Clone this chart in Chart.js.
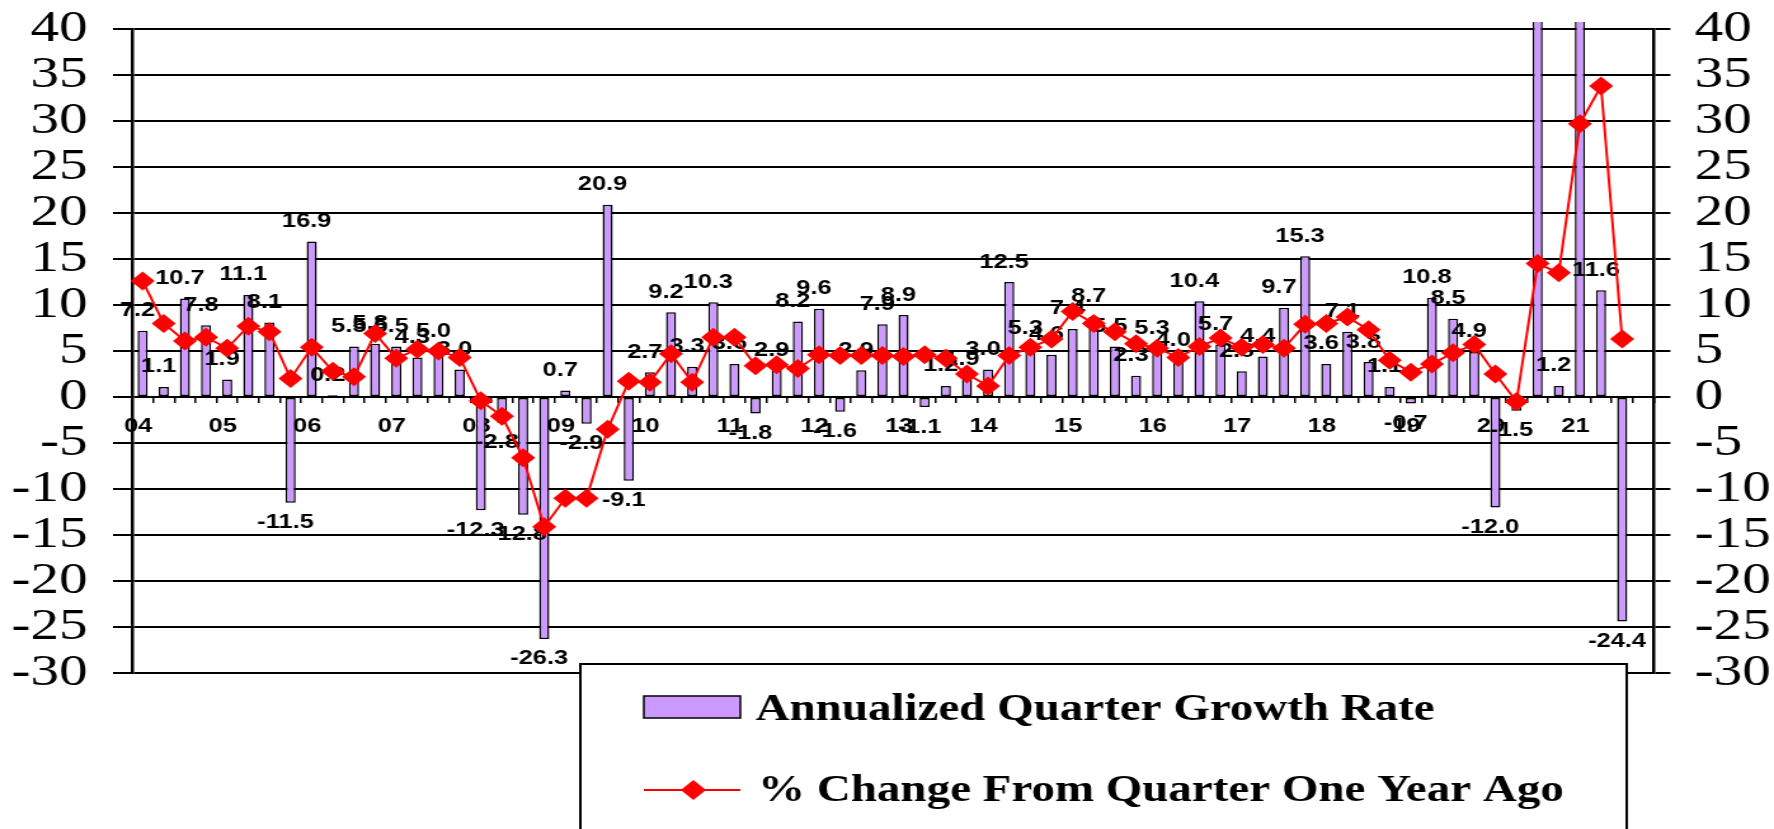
<!DOCTYPE html>
<html>
<head>
<meta charset="utf-8">
<title>Quarterly Growth</title>
<script src="https://cdn.jsdelivr.net/npm/chart.js@4.4.0/dist/chart.umd.min.js"></script>
<style>
  html, body { margin: 0; padding: 0; background: #fff; overflow: hidden; }
</style>
</head>
<body>
<!-- drawn narrower and stretched to the window width, like the source picture -->
<canvas id="growthChart" width="1397" height="829" style="width:1774px;height:829px;display:block"></canvas>
<script>
// one label per year, shown on the first quarter
const years = ['04', '05', '06', '07', '08', '09', '10', '11', '12',
               '13', '14', '15', '16', '17', '18', '19', '20', '21'];

// bars: annualized quarter growth rate (%), 2004 Q1 .. 2021 Q3
const annualizedGrowth = [
    7.2, 1.1, 10.7, 7.8,     // 04
    1.9, 11.1, 8.1, -11.5,   // 05
    16.9, 0.2, 5.5, 5.8,     // 06
    5.5, 4.3, 5.0, 3.0,      // 07
    -12.3, -2.8, -12.8, -26.3, // 08
    0.7, -2.9, 20.9, -9.1,   // 09
    2.7, 9.2, 3.3, 10.3,     // 10
    3.6, -1.8, 2.9, 8.2,     // 11
    9.6, -1.6, 2.9, 7.9,     // 12
    8.9, -1.1, 1.2, 1.9,     // 13
    3.0, 12.5, 5.3, 4.6,     // 14
    7.4, 8.7, 5.5, 2.3,      // 15
    5.3, 4.0, 10.4, 5.7,     // 16
    2.8, 4.4, 9.7, 15.3,     // 17
    3.6, 7.1, 3.8, 1.1,      // 18
    -0.7, 10.8, 8.5, 4.9,    // 19
    -12.0, -1.5, 52.0, 1.2,  // 20
    47.0, 11.6, -24.4        // 21
];

// line: % change from the same quarter one year ago
const yearAgoChange = [
    12.6, 8.0, 6.1, 6.5,
    5.3, 7.7, 7.1, 2.0,
    5.4, 2.8, 2.2, 6.9,
    4.2, 5.2, 5.0, 4.3,
    -0.4, -2.1, -6.6, -14.1,
    -11.0, -11.0, -3.5, 1.7,
    1.6, 4.7, 1.6, 6.5,
    6.5, 3.4, 3.5, 3.1,
    4.6, 4.5, 4.5, 4.5,
    4.4, 4.6, 4.2, 2.5,
    1.2, 4.5, 5.4, 6.3,
    9.3, 8.0, 7.1, 5.8,
    5.3, 4.3, 5.5, 6.4,
    5.4, 5.7, 5.3, 7.9,
    8.0, 8.7, 7.3, 4.0,
    2.7, 3.6, 4.8, 5.7,
    2.5, -0.5, 14.5, 13.5,
    29.7, 33.8, 6.3
];

const yTickValues = [-30, -25, -20, -15, -10, -5, 0, 5, 10, 15, 20, 25, 30, 35, 40];
const seriesNames = ['Annualized Quarter Growth Rate', '% Change From Quarter One Year Ago'];

const quarterLabels = years.flatMap(y => [y, '', '', '']);

const barColor = '#CC99FF';
const lineColor = '#FF0000';
const serifFont = '"Liberation Serif", "Times New Roman", serif';
const sansFont = '"Liberation Sans", Arial, sans-serif';

// value labels above / below each bar, drawn before the line so the diamonds sit on top
const barValueLabels = {
    id: 'barValueLabels',
    afterDatasetDraw(chart, args) {
        if (args.index !== 0) return;
        const ctx = chart.ctx;
        const top = yTickValues[yTickValues.length - 1];
        const bottom = yTickValues[0];
        ctx.save();
        ctx.font = 'bold 20px ' + sansFont;
        ctx.fillStyle = '#000';
        ctx.textAlign = 'center';
        ctx.textBaseline = 'middle';
        args.meta.data.forEach((bar, i) => {
            const v = annualizedGrowth[i];
            if (v > top || v < bottom) return;
            const y = v >= 0 ? bar.y - 20 : bar.y + 20;
            ctx.fillText(v.toFixed(1), bar.x - 4, y);
        });
        ctx.restore();
    }
};

// boxed legend that overlaps the bottom of the plot
const boxLegend = {
    id: 'boxLegend',
    afterDraw(chart) {
        const ctx = chart.ctx;
        ctx.save();
        ctx.fillStyle = '#fff';
        ctx.strokeStyle = '#000';
        ctx.lineWidth = 2;
        ctx.fillRect(457, 664, 824, 200);
        ctx.strokeRect(457, 664, 824, 200);

        ctx.fillStyle = barColor;
        ctx.fillRect(507, 696, 76, 22);
        ctx.lineWidth = 1.5;
        ctx.strokeRect(507, 696, 76, 22);

        ctx.strokeStyle = lineColor;
        ctx.lineWidth = 2;
        ctx.beginPath();
        ctx.moveTo(507, 790);
        ctx.lineTo(583, 790);
        ctx.stroke();
        ctx.fillStyle = lineColor;
        ctx.beginPath();
        ctx.moveTo(546, 780);
        ctx.lineTo(556, 790);
        ctx.lineTo(546, 800);
        ctx.lineTo(536, 790);
        ctx.closePath();
        ctx.fill();

        ctx.fillStyle = '#000';
        ctx.font = 'bold 37px ' + serifFont;
        ctx.textAlign = 'left';
        ctx.textBaseline = 'alphabetic';
        ctx.fillText(seriesNames[0], 595, 720);
        ctx.fillText(seriesNames[1], 597, 801);
        ctx.restore();
    }
};

const setTicks = scale => { scale.ticks = yTickValues.map(v => ({ value: v })); };
// fixed axis widths, and no extra room for the end labels
const fitY = width => scale => {
    scale.width = width;
    scale.paddingTop = 0;
    scale.paddingBottom = 0;
};

const ctx = document.getElementById('growthChart').getContext('2d');
new Chart(ctx, {
    type: 'bar',
    data: {
        labels: quarterLabels,
        datasets: [{
            type: 'bar',
            label: seriesNames[0],
            data: annualizedGrowth,
            backgroundColor: barColor,
            borderColor: '#000',
            borderWidth: 1.5,
            borderSkipped: false,
            categoryPercentage: 1,
            barPercentage: 0.48,
            order: 2,
            clip: { left: 5, top: 7, right: 5, bottom: 5 }
        }, {
            type: 'line',
            label: seriesNames[1],
            data: yearAgoChange,
            borderColor: lineColor,
            borderWidth: 2,
            backgroundColor: lineColor,
            pointStyle: 'rectRot',
            pointRadius: 9.5,
            pointBackgroundColor: lineColor,
            pointBorderColor: lineColor,
            pointBorderWidth: 0,
            tension: 0,
            order: 1,
            clip: false
        }]
    },
    options: {
        responsive: false,
        animation: false,
        layout: { padding: { top: 29, bottom: 156, left: 0, right: 0 } },
        plugins: {
            legend: { display: false },
            tooltip: { enabled: false }
        },
        scales: {
            x: {
                type: 'category',
                position: { y: 0 },
                offset: true,
                grid: {
                    offset: true,
                    drawOnChartArea: false,
                    drawTicks: true,
                    tickLength: 6,
                    color: '#000',
                    lineWidth: 1.5
                },
                border: { display: false },
                ticks: {
                    autoSkip: false,
                    maxRotation: 0,
                    minRotation: 0,
                    padding: 11,
                    labelOffset: -3.5,
                    color: '#000',
                    font: { family: sansFont, size: 20, weight: 'bold' }
                }
            },
            y: {
                position: 'left',
                min: yTickValues[0],
                max: yTickValues[yTickValues.length - 1],
                afterBuildTicks: setTicks,
                afterFit: fitY(104),
                grid: { color: '#000', lineWidth: 2, tickLength: 15 },
                border: { display: true, color: '#000', width: 2.5 },
                ticks: {
                    autoSkip: false,
                    padding: 20,
                    color: '#000',
                    font: { family: serifFont, size: 45 }
                }
            },
            y2: {
                position: 'right',
                min: yTickValues[0],
                max: yTickValues[yTickValues.length - 1],
                afterBuildTicks: setTicks,
                afterFit: fitY(1397 - 1302.4),
                grid: { drawOnChartArea: false, color: '#000', lineWidth: 2, tickLength: 13 },
                border: { display: true, color: '#000', width: 2.5 },
                ticks: {
                    autoSkip: false,
                    padding: 19,
                    color: '#000',
                    font: { family: serifFont, size: 45 }
                }
            }
        }
    },
    plugins: [barValueLabels, boxLegend]
});
</script>
</body>
</html>
